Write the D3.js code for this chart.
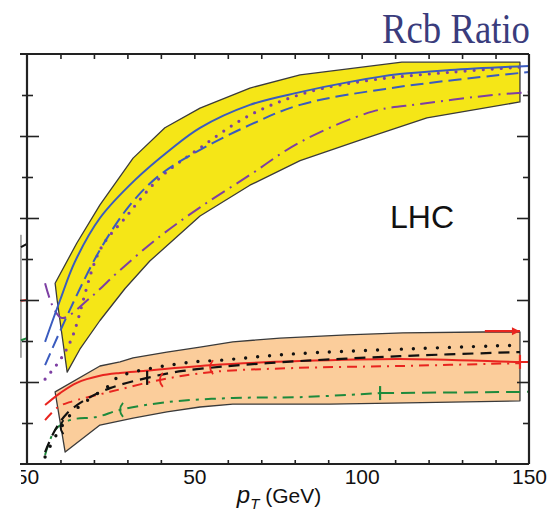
<!DOCTYPE html>
<html>
<head>
<meta charset="utf-8">
<script src="https://cdn.jsdelivr.net/npm/d3@7"></script>
<style>
  body { margin: 0; background: #fff; }
  svg { display: block; }
</style>
</head>
<body>
<script>
// tick values / labels
const xMajor = [0, 50, 100, 150];
const xTickLabels = ['50', '50', '100', '150'];
const xMinor = [10, 20, 30, 40, 60, 70, 80, 90, 110, 120, 130, 140];
const yMajor = [0.2, 0.4, 0.6, 0.8];
const yMinor = [0.1, 0.3, 0.5, 0.7, 0.9];

// b-quark band (yellow), edges as [pT, ratio]
const bandBUpper = [[8.4,0.441],[14.9,0.539],[21.8,0.632],[31.7,0.746],[41.2,0.820],[51.7,0.868],[66.6,0.917],[81.6,0.949],[112.0,0.980],[147.3,0.980]];
const bandBLower = [[9.0,0.400],[12.0,0.224],[15.8,0.280],[21.8,0.350],[29.3,0.428],[36.7,0.495],[51.7,0.605],[66.6,0.680],[81.6,0.740],[99.5,0.790],[119.5,0.844],[147.3,0.883]];

// c-quark band (orange)
const bandCUpper = [[8.4,0.176],[21.8,0.239],[27.8,0.249],[31.7,0.259],[41.8,0.273],[51.7,0.285],[61.5,0.298],[75.6,0.307],[95.6,0.315],[112.3,0.320],[136.2,0.322],[147.3,0.322]];
const bandCLower = [[11.4,0.029],[21.8,0.095],[31.7,0.112],[41.8,0.127],[51.7,0.139],[61.5,0.146],[90.5,0.146],[113.5,0.149],[147.3,0.154]];

// curves
const blueSolid = [[5.4,0.298],[9.9,0.400],[14.3,0.493],[21.8,0.600],[32.3,0.693],[42.7,0.766],[51.7,0.820],[66.6,0.876],[81.6,0.907],[96.5,0.932],[111.4,0.951],[126.4,0.961],[150,0.971]];
const blueDashed = [[5.4,0.241],[12.8,0.376],[21.8,0.522],[30.8,0.632],[39.7,0.705],[51.7,0.766],[66.6,0.827],[81.6,0.876],[111.4,0.920],[150,0.956]];
const purpleDotted = [[5.4,0.207],[9.9,0.254],[13.4,0.307],[21.8,0.522],[29.3,0.600],[39.7,0.698],[51.7,0.771],[66.6,0.851],[84.0,0.907],[103.4,0.937],[127.3,0.956],[147.3,0.968]];
const purpleDashDot = [[5.4,0.441],[7.8,0.383],[10.5,0.356],[18.8,0.405],[27.8,0.473],[39.7,0.555],[51.7,0.626],[66.6,0.705],[81.6,0.785],[103.4,0.860],[117.4,0.878],[139.2,0.900],[150,0.907]];

const blackDotted = [[5.4,0.017],[8.4,0.066],[13.4,0.124],[18.2,0.156],[24.8,0.193],[27.2,0.212],[46.6,0.246],[59.2,0.254],[78.6,0.268],[111.4,0.280],[147.3,0.290]];
const blackDashed = [[5.4,0.029],[8.4,0.083],[12.0,0.124],[17.3,0.156],[24.8,0.185],[35.9,0.210],[46.6,0.227],[71.7,0.246],[111.4,0.263],[147.3,0.273]];
const redSolid = [[5.4,0.144],[9.9,0.173],[14.9,0.198],[21.8,0.215],[27.8,0.222],[34.7,0.227],[54.7,0.241],[81.6,0.251],[111.4,0.256],[147.3,0.249],[150,0.249]];
const redDashDot = [[5.4,0.107],[9.3,0.139],[12.8,0.151],[24.8,0.176],[39.7,0.205],[54.7,0.224],[79.5,0.234],[111.4,0.239],[147.3,0.246]];
const greenDashDot = [[5.4,0.022],[8.4,0.083],[12.8,0.107],[20.9,0.115],[27.8,0.132],[41.8,0.151],[61.5,0.161],[81.6,0.163],[105.5,0.173]];
const greenDashed = [[105.5,0.173],[150,0.176]];

// end markers [pT, ratio, colour]
const endBars = [[35.9,0.210,'#111'],[147.3,0.249,'#e8251f'],[105.5,0.173,'#1d8a3c']];
const endArcs = [[39.7,0.205,'#e8251f'],[54.7,0.236,'#e8251f'],[27.8,0.132,'#1d8a3c'],[10.0,0.090,'#111']];
const redArrow = [[136.8,0.324],[147.3,0.324]];

// stubs of neighbouring panel curves, left of the frame
const stubs = [
  {pts: [[-1.8,0.529],[0,0.537]], color: '#111'},
  {pts: [[-1.8,0.398],[0,0.400]], color: '#e8251f'},
  {pts: [[-1.8,0.302],[0,0.307]], color: '#1d8a3c'}
];
const stubFrame = [[-1.8,0.559],[-1.8,0.259]];

const W = 556, H = 516;
const svg = d3.select('body').append('svg').attr('width', W).attr('height', H);

const x = d3.scaleLinear().domain([0, 150]).range([27, 529]);
const y = d3.scaleLinear().domain([0, 1]).range([464, 54]);

svg.append('clipPath').attr('id', 'plotClip')
  .append('rect').attr('x', 27).attr('y', 54).attr('width', 502).attr('height', 410);
svg.append('clipPath').attr('id', 'labelClip')
  .append('rect').attr('x', 21).attr('y', 0).attr('width', W).attr('height', H);

const line = d3.line().x(d => x(d[0])).y(d => y(d[1]));
const curve = d3.line().x(d => x(d[0])).y(d => y(d[1])).curve(d3.curveCatmullRom.alpha(0.5));

const plot = svg.append('g').attr('clip-path', 'url(#plotClip)');

function band(upper, lower, fill) {
  const pts = upper.concat(lower.slice().reverse());
  plot.append('path')
    .attr('d', line(pts) + 'Z')
    .attr('fill', fill)
    .attr('stroke', '#3a3a3a')
    .attr('stroke-width', 1.3)
    .attr('stroke-linejoin', 'round');
}

function drawCurve(data, color, dash, width, cap) {
  plot.append('path')
    .attr('d', curve(data))
    .attr('fill', 'none')
    .attr('stroke', color)
    .attr('stroke-width', width || 2)
    .attr('stroke-dasharray', dash || null)
    .attr('stroke-linecap', cap || 'butt');
}

band(bandBUpper, bandBLower, '#f5e617');
drawCurve(purpleDashDot, '#7d3fa3', '15,6,2,6');
drawCurve(purpleDotted, '#7d3fa3', '0,9', 3.2, 'round');
drawCurve(blueDashed, '#3a5bbf', '13,6');
drawCurve(blueSolid, '#3a5bbf');

band(bandCUpper, bandCLower, '#fbcd9b');
drawCurve(greenDashDot, '#1d8a3c', '11,6,3,6');
drawCurve(greenDashed, '#1d8a3c', '14,7');
drawCurve(redDashDot, '#e8251f', '10,6,2,6');
drawCurve(redSolid, '#e8251f');
drawCurve(blackDashed, '#111', '11,7', 2.2);
drawCurve(blackDotted, '#111', '0,12', 3.4, 'round');

// end markers
plot.selectAll('.endBar').data(endBars).enter().append('line')
  .attr('class', 'endBar')
  .attr('x1', d => x(d[0])).attr('x2', d => x(d[0]))
  .attr('y1', d => y(d[1]) - 7).attr('y2', d => y(d[1]) + 7)
  .attr('stroke', d => d[2]).attr('stroke-width', 2.2);

plot.selectAll('.endArc').data(endArcs).enter().append('path')
  .attr('class', 'endArc')
  .attr('d', d => {
    const cx = x(d[0]), cy = y(d[1]);
    return `M${cx + 3},${cy - 7}Q${cx - 3},${cy} ${cx + 3},${cy + 7}`;
  })
  .attr('fill', 'none').attr('stroke', d => d[2]).attr('stroke-width', 1.8);

plot.append('path')
  .attr('d', line(redArrow))
  .attr('stroke', '#e8251f').attr('stroke-width', 2.2).attr('fill', 'none');
plot.append('path')
  .attr('d', () => {
    const ex = x(redArrow[1][0]), ey = y(redArrow[1][1]);
    return `M${ex},${ey}L${ex - 8},${ey - 4}L${ex - 8},${ey + 4}Z`;
  })
  .attr('fill', '#e8251f');

// neighbour stubs
svg.append('path').attr('d', line(stubFrame)).attr('stroke', '#555').attr('stroke-width', 1).attr('fill', 'none');
stubs.forEach(s => {
  svg.append('path').attr('d', line(s.pts)).attr('stroke', s.color).attr('stroke-width', 2).attr('fill', 'none');
});

// axes
const axisColor = '#222';
function styleAxis(g) {
  g.select('.domain').remove();
  g.selectAll('line').attr('stroke', axisColor).attr('stroke-width', 1.6);
}

svg.append('g').attr('transform', 'translate(0,464)')
  .call(d3.axisBottom(x).tickValues(xMinor).tickSizeInner(-4).tickSizeOuter(0).tickFormat(''))
  .call(styleAxis);
const xAx = svg.append('g').attr('transform', 'translate(0,464)')
  .attr('clip-path', 'url(#labelClip)')
  .call(d3.axisBottom(x).tickValues(xMajor).tickSizeInner(-10).tickSizeOuter(0).tickPadding(5)
    .tickFormat((d, i) => xTickLabels[i]))
  .call(styleAxis);
xAx.selectAll('text')
  .attr('font-family', '"Liberation Sans", Arial, sans-serif')
  .attr('font-size', 21).attr('fill', '#111');

svg.append('g').attr('transform', 'translate(0,54)')
  .call(d3.axisTop(x).tickValues(xMinor.concat([50, 100])).tickSizeInner(-5).tickSizeOuter(0).tickFormat(''))
  .call(styleAxis);

svg.append('g').attr('transform', 'translate(27,0)')
  .call(d3.axisLeft(y).tickValues(yMajor).tickSizeInner(7).tickSizeOuter(0).tickFormat(''))
  .call(styleAxis)
  .selectAll('line').attr('x1', 12);
svg.append('g').attr('transform', 'translate(27,0)')
  .call(d3.axisLeft(y).tickValues(yMinor).tickSizeInner(5).tickSizeOuter(0).tickFormat(''))
  .call(styleAxis)
  .selectAll('line').attr('x1', 6);

svg.append('g').attr('transform', 'translate(529,0)')
  .call(d3.axisRight(y).tickValues(yMajor).tickSizeInner(-12).tickSizeOuter(0).tickFormat(''))
  .call(styleAxis);
svg.append('g').attr('transform', 'translate(529,0)')
  .call(d3.axisRight(y).tickValues(yMinor).tickSizeInner(-6).tickSizeOuter(0).tickFormat(''))
  .call(styleAxis);

// frame
const frame = svg.append('g').attr('stroke', axisColor).attr('stroke-width', 2.2);
frame.append('line').attr('x1', 20).attr('x2', x(150)).attr('y1', y(0)).attr('y2', y(0));
frame.append('line').attr('x1', 20).attr('x2', x(150)).attr('y1', y(1)).attr('y2', y(1));
frame.append('line').attr('x1', x(0)).attr('x2', x(0)).attr('y1', y(1)).attr('y2', y(0));
frame.append('line').attr('x1', x(150)).attr('x2', x(150)).attr('y1', y(1)).attr('y2', y(0));

// axis title
const xt = svg.append('text')
  .attr('x', 279).attr('y', 503)
  .attr('text-anchor', 'middle')
  .attr('font-family', '"Liberation Sans", Arial, sans-serif')
  .attr('font-size', 21).attr('fill', '#111');
xt.append('tspan').attr('font-style', 'italic').attr('font-size', 24).text('p');
xt.append('tspan').attr('font-style', 'italic').attr('font-size', 15).attr('dy', 6).text('T');
xt.append('tspan').attr('dy', -6).text(' (GeV)');

// LHC label
svg.append('text')
  .attr('x', 390).attr('y', 228)
  .attr('font-family', '"Liberation Sans", Arial, sans-serif')
  .attr('font-size', 32).attr('fill', '#111')
  .text('LHC');

// title
svg.append('text')
  .attr('x', 530).attr('y', 43)
  .attr('text-anchor', 'end')
  .attr('font-family', '"Liberation Serif", "Times New Roman", serif')
  .attr('font-size', 42).attr('fill', '#3a3c7c')
  .attr('textLength', 148).attr('lengthAdjust', 'spacingAndGlyphs')
  .text('Rcb Ratio');
</script>
</body>
</html>
